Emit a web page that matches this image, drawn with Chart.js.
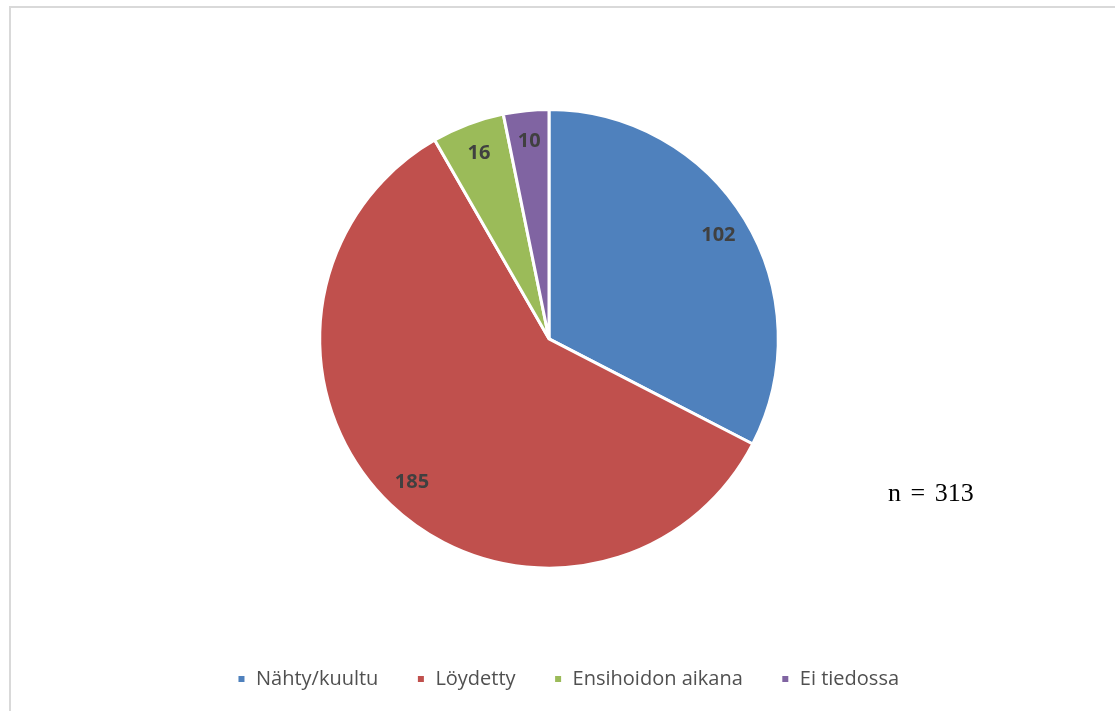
<!DOCTYPE html>
<html>
<head>
<meta charset="utf-8">
<script src="https://cdn.jsdelivr.net/npm/chart.js@4/dist/chart.umd.min.js"></script>
<style>
  html, body { margin: 0; padding: 0; background: #fff; }
  #wrap { position: relative; width: 1115px; height: 711px; overflow: hidden; }
  #frame { position: absolute; left: 9px; top: 6px; width: 1130px; height: 730px; border: 2px solid #d9d9d9; box-sizing: border-box; }
  #n { position: absolute; left: 888px; top: 478px; font-family: "Liberation Serif", serif; font-size: 26px; word-spacing: 3px; color: #000; }
</style>
</head>
<body>
<div id="wrap">
  <div id="frame"></div>
  <canvas id="pie" width="1115" height="711"></canvas>
  <div id="n">n = 313</div>
</div>
<script>
var labels = ["Nähty/kuultu", "Löydetty", "Ensihoidon aikana", "Ei tiedossa"];
var values = [102, 185, 16, 10];
var colors = ["#4F81BD", "#C0504D", "#9BBB59", "#8064A2"];

// arvot sektorien sisään
var valueLabels = {
  id: 'valueLabels',
  afterDatasetsDraw: function(chart){
    var ctx = chart.ctx;
    var meta = chart.getDatasetMeta(0);
    ctx.save();
    ctx.font = 'bold 20px "Open Sans"';
    ctx.fillStyle = '#404040';
    ctx.textAlign = 'center';
    ctx.textBaseline = 'middle';
    meta.data.forEach(function(arc, i){
      var p = arc.getProps(['x', 'y', 'startAngle', 'endAngle', 'outerRadius']);
      var a = (p.startAngle + p.endAngle) / 2;
      var r = p.outerRadius * 0.865;
      ctx.fillText(values[i], p.x + Math.cos(a) * r, p.y + Math.sin(a) * r);
    });
    ctx.restore();
  }
};

// selite hieman oikealle, kuten alkuperäisessä
var legendShift = {
  id: 'legendShift',
  afterLayout: function(chart){
    chart.legend.left += 19;
    chart.legend.right += 19;
  }
};

var ctx = document.getElementById("pie");
var chart = new Chart(ctx, {
  type: 'pie',
  data: {
    labels: labels,
    datasets: [{
      data: values,
      backgroundColor: colors,
      borderColor: '#ffffff',
      borderWidth: 3
    }]
  },
  options: {
    responsive: false,
    animation: false,
    layout: { padding: { top: 108, bottom: 12, left: 0, right: 17 } },
    plugins: {
      tooltip: { enabled: false },
      legend: {
        position: 'bottom',
        title: { display: true, text: ' ', padding: { top: 0, bottom: 47 } },
        labels: {
          font: { family: 'Open Sans', size: 20 },
          color: '#505050',
          boxWidth: 9,
          boxHeight: 9,
          padding: 38
        }
      }
    }
  },
  plugins: [valueLabels, legendShift]
});
</script>
</body>
</html>
